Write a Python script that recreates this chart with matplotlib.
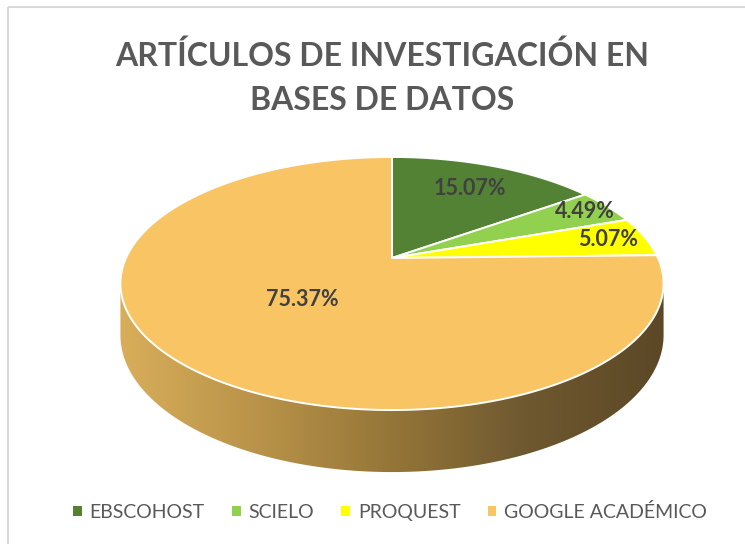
import numpy as np
import matplotlib.pyplot as plt
from matplotlib.patches import Polygon, Rectangle, Patch
from matplotlib.colors import LinearSegmentedColormap

plt.rcParams['font.family'] = ['Lato', 'DejaVu Sans']

# data
categories = ['EBSCOHOST', 'SCIELO', 'PROQUEST', 'GOOGLE ACADÉMICO']
percent = [15.07, 4.49, 5.07, 75.37]
colors = ['#548235', '#92D050', '#FFFF00', '#F8C464']
title_lines = ['ARTÍCULOS DE INVESTIGACIÓN EN', 'BASES DE DATOS']

# where each data label sits, as fraction of the radius (excel "best fit")
label_r = [0.73, 0.885, 0.85, 0.45]

# perspective pie geometry, in pixel units
CX, CY = 392, 258
RX, RY = 266, 121.4
K = 0.2016      # perspective strength
DEPTH = 49.5    # thickness of the pie


def project(r, t, drop=0.0):
    # point (r, t) on the tilted disc -> image coords
    c = r * np.cos(t)
    s = r * np.sin(t)
    w = 1 + K * s
    return CX + RX * c / w, CY + (drop - RY * s) / w


fig = plt.figure(figsize=(7.45, 5.44), dpi=100)
ax = fig.add_axes([0, 0, 1, 1])

# chart border (excel chart area)
ax.add_patch(Rectangle((8, 7), 760, 560, fill=False, ec='#d9d9d9', lw=1.5))

# side wall with horizontal gradient
a = np.arcsin(K)
t = np.linspace(np.pi + a, 2 * np.pi - a, 300)
tx, ty = project(1, t)
bx, by = project(1, t, DEPTH)
wall_xy = np.column_stack([np.r_[tx, bx[::-1]], np.r_[ty, by[::-1]]])
wall = Polygon(wall_xy, closed=True, fc='none', ec='none')
ax.add_patch(wall)
wall_cmap = LinearSegmentedColormap.from_list(
    'wall', ['#d8ae5a', '#b99349', '#957638', '#6e5830', '#5c4826'])
grad = np.linspace(0, 1, 256).reshape(1, -1)
img = ax.imshow(grad, cmap=wall_cmap, aspect='auto',
                extent=(tx.min(), tx.max(), by.max() + 2, ty.min() - 2))
img.set_clip_path(wall)

# top face wedges, start at 90 deg going clockwise
bounds = 90 - 360 * np.r_[0, np.cumsum(percent)] / 100.0
for i, p in enumerate(percent):
    th = np.radians(np.linspace(bounds[i], bounds[i + 1], 200))
    px, py = project(1, th)
    xy = np.column_stack([np.r_[CX, px], np.r_[CY, py]])
    ax.add_patch(Polygon(xy, closed=True, fc=colors[i], ec='white',
                         lw=1.4, joinstyle='round'))

    mid = np.radians((bounds[i] + bounds[i + 1]) / 2)
    lx, ly = project(label_r[i], mid)
    ax.text(lx, ly, f'{p:.2f}%', ha='center', va='center',
            fontsize=15.5, fontweight='bold', color='#404040')

# title
ax.text(382, 56, title_lines[0], ha='center', va='center',
        fontsize=23, fontweight='bold', color='#595959')
ax.text(382, 101, title_lines[1], ha='center', va='center',
        fontsize=23, fontweight='bold', color='#595959')

ax.set_xlim(0, 745)
ax.set_ylim(544, 0)
ax.axis('off')

handles = [Patch(fc=c, ec='none') for c in colors]
fig.legend(handles, categories, loc='center', bbox_to_anchor=(0.5235, 0.059),
           ncol=4, frameon=False, fontsize=14, handlelength=0.45,
           handleheight=0.45, handletextpad=0.4, columnspacing=1.4,
           labelcolor='#595959')

fig.savefig('out.png', dpi=100)
